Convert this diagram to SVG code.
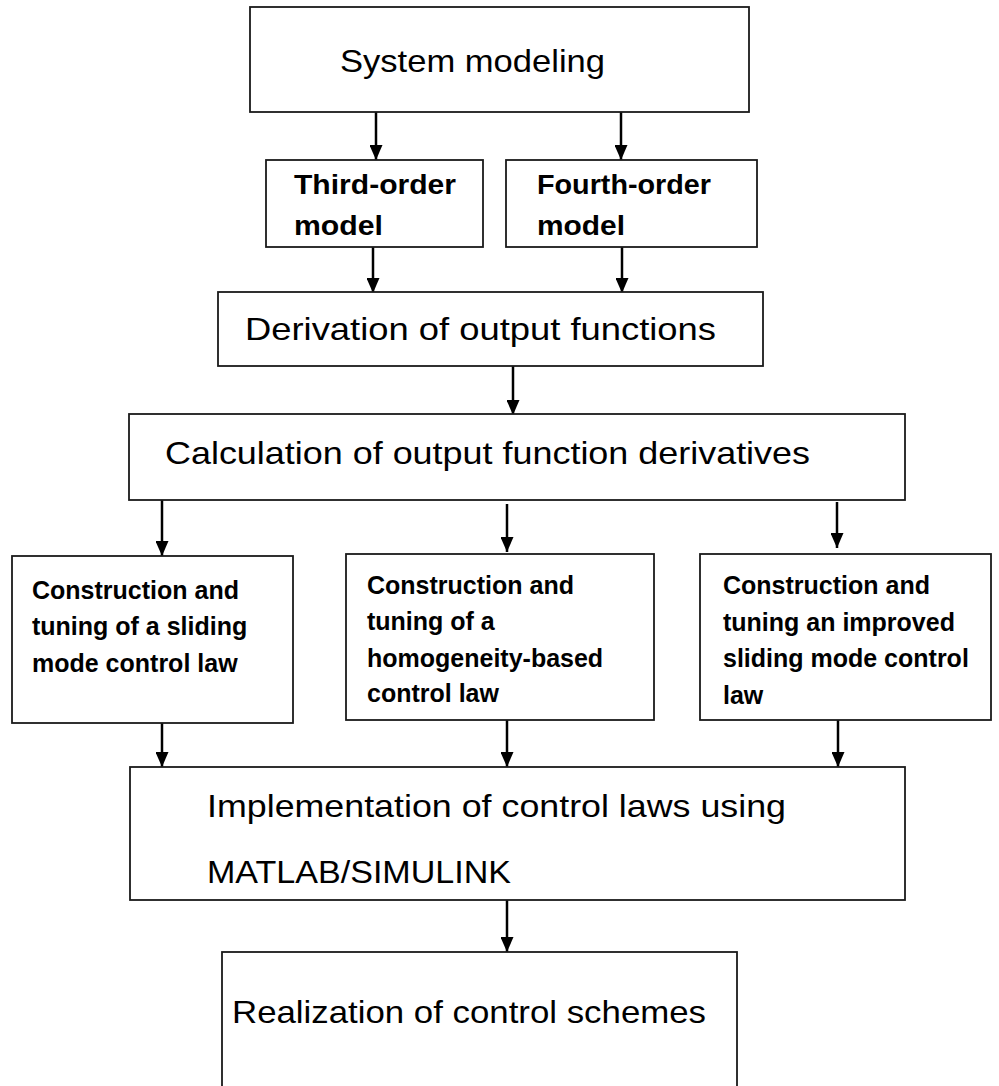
<svg xmlns="http://www.w3.org/2000/svg" width="999" height="1086" viewBox="0 0 999 1086">
<style>
.box{fill:#fff;stroke:#1a1a1a;stroke-width:1.8}
.t{font-family:"Liberation Sans",Arial,sans-serif;fill:#000}
.r{font-size:32px}
.b{font-size:25px;font-weight:bold}
.bm{font-size:28px;font-weight:bold}
.c{stroke:#000;stroke-width:2.5;fill:none;marker-end:url(#ah)}
</style>
<defs>
<marker id="ah" markerUnits="userSpaceOnUse" viewBox="0 0 15 13" markerWidth="15" markerHeight="13" refX="15" refY="6.5" orient="auto">
<path d="M0,0 L15,6.5 L0,13 z" fill="#000"/>
</marker>
</defs>
<rect width="999" height="1086" fill="#fff"/>
<g id="connectors">
<line class="c" x1="376" y1="112" x2="376" y2="160"/>
<line class="c" x1="621" y1="112" x2="621" y2="160"/>
<line class="c" x1="373" y1="247" x2="373" y2="293"/>
<line class="c" x1="622" y1="247" x2="622" y2="293"/>
<line class="c" x1="513" y1="366" x2="513" y2="415"/>
<line class="c" x1="162" y1="500" x2="162" y2="556"/>
<line class="c" x1="507" y1="504" x2="507" y2="552"/>
<line class="c" x1="837" y1="502" x2="837" y2="548"/>
<line class="c" x1="162" y1="723" x2="162" y2="767"/>
<line class="c" x1="507" y1="720" x2="507" y2="767"/>
<line class="c" x1="838" y1="720" x2="838" y2="767"/>
<line class="c" x1="507" y1="900" x2="507" y2="952"/>
</g>
<g id="system-modeling">
<rect class="box" x="250" y="7" width="499" height="105"/>
<text class="t r" x="340" y="72" textLength="265" lengthAdjust="spacingAndGlyphs">System modeling</text>
</g>
<g id="third-order">
<rect class="box" x="266" y="160" width="217" height="87"/>
<text class="t bm" x="294" y="194" textLength="162" lengthAdjust="spacingAndGlyphs">Third-order</text>
<text class="t bm" x="294" y="235" textLength="89" lengthAdjust="spacingAndGlyphs">model</text>
</g>
<g id="fourth-order">
<rect class="box" x="506" y="160" width="251" height="87"/>
<text class="t bm" x="537" y="194" textLength="174" lengthAdjust="spacingAndGlyphs">Fourth-order</text>
<text class="t bm" x="537" y="235" textLength="88" lengthAdjust="spacingAndGlyphs">model</text>
</g>
<g id="derivation">
<rect class="box" x="218" y="292" width="545" height="74"/>
<text class="t r" x="245" y="340" textLength="471" lengthAdjust="spacingAndGlyphs">Derivation of output functions</text>
</g>
<g id="calculation">
<rect class="box" x="129" y="414" width="776" height="86"/>
<text class="t r" x="165" y="464" textLength="645" lengthAdjust="spacingAndGlyphs">Calculation of output function derivatives</text>
</g>
<g id="sliding-mode">
<rect class="box" x="12" y="556" width="281" height="167"/>
<text class="t b" x="32" y="599">Construction and</text>
<text class="t b" x="32" y="635">tuning of a sliding</text>
<text class="t b" x="32" y="672">mode control law</text>
</g>
<g id="homogeneity">
<rect class="box" x="346" y="554" width="308" height="166"/>
<text class="t b" x="367" y="594">Construction and</text>
<text class="t b" x="367" y="630">tuning of a</text>
<text class="t b" x="367" y="667">homogeneity-based</text>
<text class="t b" x="367" y="702">control law</text>
</g>
<g id="improved-sliding-mode">
<rect class="box" x="700" y="554" width="291" height="166"/>
<text class="t b" x="723" y="594">Construction and</text>
<text class="t b" x="723" y="631">tuning an improved</text>
<text class="t b" x="723" y="667">sliding mode control</text>
<text class="t b" x="723" y="704">law</text>
</g>
<g id="implementation">
<rect class="box" x="130" y="767" width="775" height="133"/>
<text class="t r" x="207" y="817" textLength="579" lengthAdjust="spacingAndGlyphs">Implementation of control laws using</text>
<text class="t r" x="207" y="883" textLength="304" lengthAdjust="spacingAndGlyphs">MATLAB/SIMULINK</text>
</g>
<g id="realization">
<rect class="box" x="222" y="952" width="515" height="150"/>
<text class="t r" x="232" y="1023" textLength="474" lengthAdjust="spacingAndGlyphs">Realization of control schemes</text>
</g>
</svg>
